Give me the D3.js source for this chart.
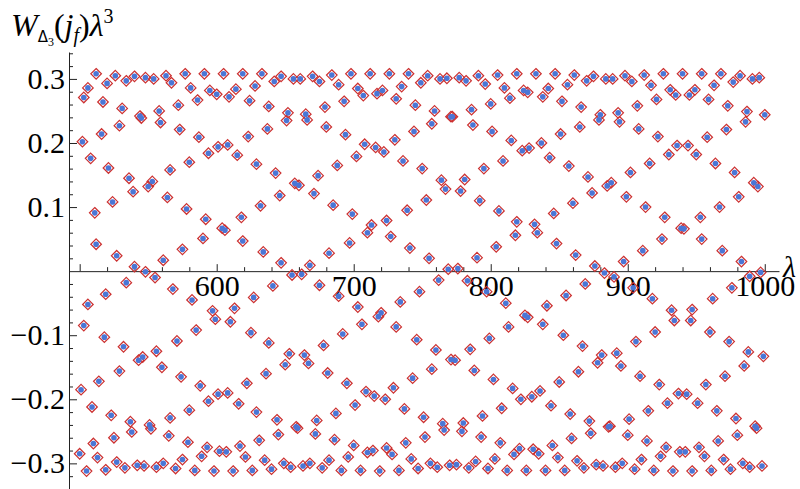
<!DOCTYPE html>
<html>
<head>
<meta charset="utf-8">
<script src="https://cdn.jsdelivr.net/npm/d3@7"></script>
<style>
  body { margin: 0; background: #fff; }
</style>
</head>
<body>
<div id="viz"></div>
<script>
// [lambda, W*lambda^3] pairs, split by lambda range
const pts500 = [
  [500,-.285],[501,-.185],[502,.202],[503,.271],[503,-.085],[505,-.312],[506,.286],[506,-.052],[508,.176],[509,-.212],
  [510,-.269],[511,.091],[512,.308],[512,.042],[513,-.291],[514,-.172],[516,.214],[517,.264],[518,-.103],[519,-.036],
  [519,-.310],[520,.293],[521,.161],[523,-.225],[524,.108],[525,-.260],[526,.305],[527,.024],[527,-.298],[529,.227],
  [529,-.156],[531,.254],[532,-.118],[533,-.307],[534,.297],[534,-.018],[536,.145],[537,-.235],[538,-.251],[539,.124],
  [540,.304],[540,.007],[542,-.303],[543,-.139],[544,.242],[545,.239],[546,-.134],[547,-.304],[548,.302],[548,-.001],
  [550,.132],[551,-.240],[552,-.246],[553,.140],[554,.300],[555,-.010],[556,-.125],[556,-.306],[558,.250],[559,.232],
  [560,-.150],[561,.017],[561,-.300],[563,.305],[564,.115],[565,-.257],[566,.158],[566,-.229],[567,.294],[568,-.028],
  [570,-.308],[571,-.109],[572,.259],[573,.221],[574,-.165],[575,.034],[575,-.294],[577,.308],[578,.097],[579,-.267],
  [580,.170],[580,-.217],[581,.286],[582,-.045],[584,-.311],[585,-.092],[586,.267],[587,.209],[588,-.179],[589,-.289],
  [590,.051],[591,.308],[592,.081],[593,-.275],[594,.184],[594,-.203],[595,.282],[597,-.062],[598,-.312],[599,-.075]
];
const pts600 = [
  [600,.276],[601,.194],[601,-.192],[602,-.281],[604,.067],[605,.308],[606,.064],[607,-.282],[608,.197],[608,-.190],
  [609,.272],[610,-.079],[612,-.312],[613,-.058],[614,.284],[615,.181],[616,-.207],[617,-.273],[618,.084],[619,.308],
  [619,.047],[621,-.290],[622,-.175],[623,.210],[624,.266],[625,-.096],[626,-.311],[627,-.041],[628,.289],[629,.167],
  [629,-.220],[631,-.264],[632,.102],[633,.308],[634,.030],[635,-.295],[636,-.160],[637,.222],[638,.257],[638,-.112],
  [640,-.309],[641,-.023],[642,.296],[643,.153],[644,-.232],[645,-.255],[646,.118],[647,.304],[647,.013],[649,-.300],
  [650,-.146],[651,.235],[652,.247],[653,-.129],[654,-.306],[655,-.006],[656,.300],[657,.137],[658,-.243],[659,-.245],
  [660,.134],[661,.300],[662,-.005],[663,-.304],[664,-.131],[665,.245],[666,.236],[667,-.144],[668,.009],[668,-.300],
  [670,.304],[671,.121],[672,-.254],[673,-.233],[674,.149],[675,.296],[675,-.022],[677,-.307],[678,-.116],[679,.256],
  [680,.225],[681,-.159],[682,.028],[682,-.295],[684,.306],[685,.103],[686,-.263],[687,-.222],[688,.165],[689,.291],
  [689,-.039],[691,-.311],[692,-.098],[693,.265],[694,.213],[695,-.175],[696,-.290],[697,.044],[698,.308],[699,.089]
];
const pts700 = [
  [700,-.272],[701,-.209],[702,.179],[703,.285],[703,-.056],[705,-.311],[706,-.083],[707,.274],[708,.198],[709,-.188],
  [710,.060],[710,-.283],[712,.308],[713,.072],[714,-.280],[715,-.195],[716,.193],[717,.277],[718,-.071],[719,-.312],
  [720,-.065],[721,.282],[722,.186],[723,-.200],[724,.079],[724,-.276],[726,.308],[727,.054],[728,-.286],[729,-.182],
  [730,.205],[731,.269],[731,-.087],[733,-.311],[734,-.048],[735,.288],[736,.172],[737,-.215],[738,-.268],[739,.095],
  [740,.308],[741,.036],[742,-.293],[743,-.167],[744,.218],[745,.259],[746,-.107],[747,-.308],[748,-.032],[749,.294],
  [750,.160],[751,-.228],[752,-.259],[753,.111],[754,.305],[755,.020],[756,-.300],[757,.230],[757,-.153],[759,.250],
  [760,-.123],[761,-.306],[762,-.014],[763,.300],[764,.142],[765,-.238],[766,-.248],[767,.128],[768,.301],[769,.003],
  [770,-.303],[771,.241],[771,-.138],[772,.241],[774,-.139],[775,-.302],[776,.004],[777,.302],[778,.125],[779,-.250],
  [780,-.237],[781,.143],[782,.297],[783,-.015],[784,-.307],[785,-.122],[786,.252],[787,.228],[788,-.155],[789,-.297],
  [790,.021],[791,.305],[792,.110],[793,-.259],[794,-.226],[795,.160],[796,.292],[797,-.032],[798,-.308],[799,-.105]
];
const pts800 = [
  [800,.261],[801,.218],[802,-.169],[803,-.293],[804,.038],[805,.306],[806,.094],[807,-.268],[808,-.214],[809,.172],
  [810,.286],[811,-.050],[812,-.311],[813,-.087],[814,.270],[815,.204],[816,-.183],[817,-.286],[818,.056],[819,.308],
  [819,.077],[821,-.277],[822,-.200],[823,.188],[824,.282],[825,-.069],[826,-.311],[827,.279],[827,-.072],[828,.192],
  [830,-.196],[831,-.278],[832,.073],[833,.308],[834,.060],[835,-.285],[836,-.187],[837,.200],[838,.272],[838,-.083],
  [840,-.311],[841,-.054],[842,.285],[843,.177],[844,-.210],[845,-.272],[846,.090],[847,.308],[848,.043],[849,-.291],
  [850,-.173],[851,.214],[852,.265],[853,-.100],[854,-.311],[855,-.038],[856,.291],[857,.164],[858,-.223],[859,-.261],
  [860,.106],[861,.306],[862,.025],[863,-.296],[864,-.157],[865,.225],[866,.256],[867,-.117],[868,-.307],[869,-.020],
  [870,.297],[871,.147],[872,-.234],[873,-.253],[874,.122],[875,.304],[876,.008],[877,-.302],[878,-.143],[879,.236],
  [880,.244],[881,-.131],[882,-.304],[883,-.003],[884,.300],[885,.133],[886,-.243],[887,-.242],[888,.138],[889,.300],
  [890,-.009],[891,-.306],[892,-.128],[893,.247],[894,.233],[895,-.148],[896,-.300],[897,.015],[898,.305],[899,.116]
];
const pts900 = [
  [900,-.256],[901,-.231],[902,.154],[903,.296],[904,-.026],[905,-.309],[906,-.110],[907,.258],[908,.222],[909,-.164],
  [910,-.294],[911,.032],[912,.306],[913,.100],[914,-.265],[915,-.218],[916,.168],[917,.290],[918,-.043],[919,-.311],
  [920,-.095],[921,.268],[922,.210],[923,-.177],[924,-.289],[925,.050],[926,.308],[927,.084],[928,-.275],[929,-.206],
  [930,.182],[931,.283],[932,-.061],[933,-.312],[934,-.077],[935,.275],[936,.196],[937,-.191],[938,-.282],[939,.067],
  [940,.308],[941,.066],[942,-.282],[943,-.192],[944,.196],[945,.275],[946,-.077],[947,-.060],[947,-.312],[949,.283],
  [950,.182],[951,-.206],[952,-.275],[953,.084],[954,.308],[954,.050],[956,-.289],[957,-.177],[958,.209],[959,.268],
  [960,-.095],[961,-.311],[962,-.043],[963,.290],[964,.168],[965,-.218],[966,-.265],[967,.100],[968,.308],[969,.032],
  [970,-.294],[971,-.164],[972,.221],[973,.258],[974,-.110],[975,-.309],[976,-.026],[977,.295],[978,.154],[979,-.230],
  [980,-.256],[981,.116],[982,.305],[983,.015],[984,-.300],[985,-.148],[986,.233],[987,.249],[988,-.126],[989,-.008],
  [989,-.306],[991,.300],[992,.138],[993,-.242],[994,-.245],[995,.132],[996,.302],[997,-.002],[998,-.304],[999,-.133],
  [1000,.244]
];

const xMajor = [500, 600, 700, 800, 900, 1000];
const xMinor = d3.range(500, 1001, 20).filter(d => d % 100 !== 0);
const yMajor = [-0.3, -0.2, -0.1, 0.1, 0.2, 0.3];
const yMinor = d3.range(-34, 35, 2).map(d => d / 100).filter(d => Math.round(d * 100) % 10 !== 0);

const points = [...pts500, ...pts600, ...pts700, ...pts800, ...pts900];

const width = 800, height = 489;
const font = "'Liberation Serif', 'Times New Roman', serif";

const svg = d3.select("#viz").append("svg")
    .attr("width", width)
    .attr("height", height);

const xScale = d3.scaleLinear().domain([492.2, 1010.4]).range([69, 779]);
const yScale = d3.scaleLinear().domain([-0.34, 0.342]).range([489, 52]);

// x axis (ticks point up)
svg.append("g")
    .attr("transform", `translate(0, ${yScale(0)})`)
    .call(d3.axisBottom(xScale).tickValues(xMinor).tickSize(-4).tickSizeOuter(0).tickFormat(""))
    .call(g => g.select(".domain").remove());

const xAxis = svg.append("g")
    .attr("transform", `translate(0, ${yScale(0)})`)
    .call(d3.axisBottom(xScale).tickValues(xMajor).tickSize(-7).tickSizeOuter(0).tickPadding(4)
        .tickFormat(d => d === 500 ? "" : d));
xAxis.attr("font-family", font).attr("font-size", 30);

// y axis (ticks point right)
svg.append("g")
    .attr("transform", `translate(69, 0)`)
    .call(d3.axisLeft(yScale).tickValues(yMinor).tickSize(-4).tickSizeOuter(0).tickFormat(""))
    .call(g => g.select(".domain").remove());

const yAxis = svg.append("g")
    .attr("transform", `translate(69, 0)`)
    .call(d3.axisLeft(yScale).tickValues(yMajor).tickSize(-8).tickSizeOuter(0).tickPadding(4)
        .tickFormat(d3.format(".1f")));
yAxis.attr("font-family", font).attr("font-size", 30);

svg.selectAll(".domain, .tick line").attr("stroke", "#222");

// points: red open diamonds with blue dots
const r = 5.3;
svg.append("g")
    .selectAll("path")
    .data(points)
    .enter().append("path")
        .attr("d", d => {
            const cx = xScale(d[0]), cy = yScale(d[1]);
            return `M${cx},${cy - r}L${cx + r},${cy}L${cx},${cy + r}L${cx - r},${cy}Z`;
        })
        .attr("fill", "none")
        .attr("stroke", "#cc3030")
        .attr("stroke-width", 1.2);

svg.append("g")
    .selectAll("circle")
    .data(points)
    .enter().append("circle")
        .attr("cx", d => xScale(d[0]))
        .attr("cy", d => yScale(d[1]))
        .attr("r", 2.8)
        .attr("fill", "#4a76d6");

// axis labels
const yLab = svg.append("text")
    .attr("x", 11).attr("y", 36)
    .attr("font-family", font).attr("font-size", 32);
yLab.append("tspan").attr("font-style", "italic").text("W");
yLab.append("tspan").attr("font-family", "'DejaVu Sans', sans-serif").attr("font-size", 15).attr("dy", 6).text("Δ");
yLab.append("tspan").attr("font-size", 12).attr("dy", 4).text("3");
yLab.append("tspan").attr("dy", -10).text("(");
yLab.append("tspan").attr("font-style", "italic").text("j");
yLab.append("tspan").attr("font-style", "italic").attr("font-size", 20).attr("dy", 6).text("f");
yLab.append("tspan").attr("dy", -6).text(")");
yLab.append("tspan").attr("font-style", "italic").text("λ");
yLab.append("tspan").attr("font-size", 20).attr("dy", -13).text("3");

svg.append("text")
    .attr("x", 783).attr("y", 277)
    .attr("font-family", font).attr("font-size", 30).attr("font-style", "italic")
    .text("λ");
</script>
</body>
</html>
